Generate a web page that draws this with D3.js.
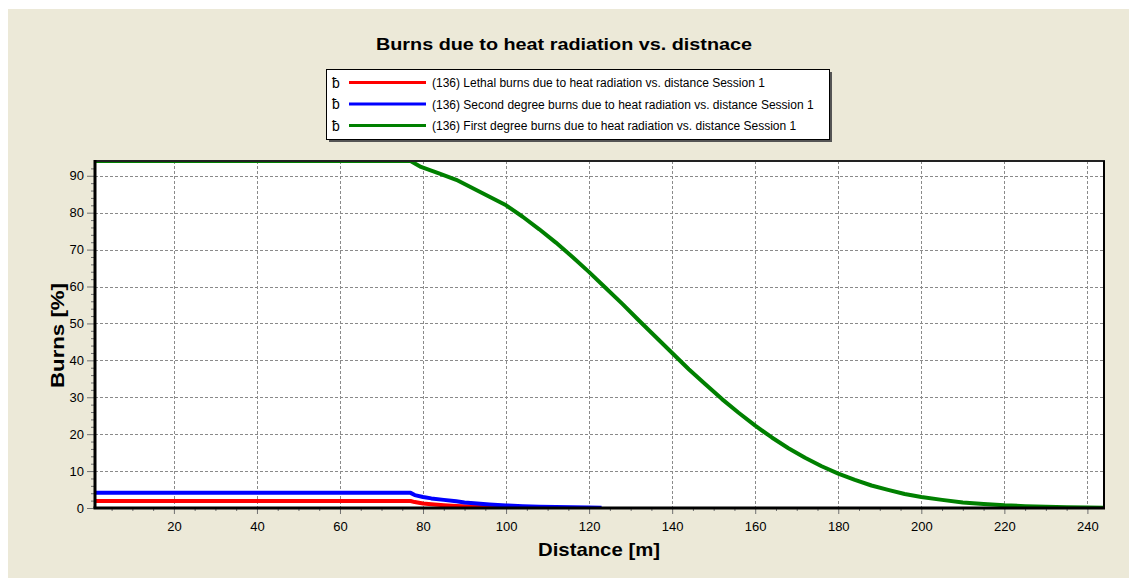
<!DOCTYPE html>
<html><head><meta charset="utf-8">
<script src="https://cdn.jsdelivr.net/npm/d3@7"></script>
<style>
html,body{margin:0;padding:0;background:#fff;}
svg{display:block;}
text{font-family:"Liberation Sans",Arial,sans-serif;}
</style></head>
<body>
<svg id="chart" width="1129" height="578"></svg>
<script>
const title = "Burns due to heat radiation vs. distnace";
const xTitle = "Distance [m]";
const yTitle = "Burns [%]";
const seriesNames = [
  "(136) Lethal burns due to heat radiation vs. distance Session 1",
  "(136) Second degree burns due to heat radiation vs. distance Session 1",
  "(136) First degree burns due to heat radiation vs. distance Session 1"
];
const seriesColors = ["#ff0000", "#0000ff", "#008000"];
const xTicks = [20, 40, 60, 80, 100, 120, 140, 160, 180, 200, 220, 240];
const yTicks = [0, 10, 20, 30, 40, 50, 60, 70, 80, 90];

const lethalX = [1, 77, 78, 80, 82, 85, 88, 91, 94, 97, 100, 104, 107];
const lethalY = [1.9, 1.9, 1.6, 1.2, 1.0, 0.75, 0.55, 0.38, 0.25, 0.16, 0.1, 0.05, 0.02];
const secondX = [1, 77, 78, 80, 82, 85, 88, 90, 93, 96, 100, 104, 108, 112, 116, 120, 123];
const secondY = [4.1, 4.1, 3.5, 3.0, 2.6, 2.2, 1.8, 1.5, 1.2, 0.95, 0.7, 0.5, 0.35, 0.25, 0.18, 0.12, 0.08];
const firstX = [1, 77, 79.5, 80, 84, 88, 92, 96, 100, 104, 108, 112, 116, 120, 124, 128, 132, 136, 140, 144, 148, 152, 156, 160, 164, 168, 172, 176, 180, 184, 188, 192, 196, 200, 205, 210, 215, 220, 225, 230, 235, 240, 244];
const firstY = [94, 94, 92.4, 92.2, 90.6, 88.9, 86.6, 84.3, 82.0, 78.9, 75.5, 71.9, 68.0, 63.9, 59.6, 55.3, 50.8, 46.4, 42.0, 37.6, 33.5, 29.5, 25.8, 22.3, 19.1, 16.2, 13.6, 11.3, 9.3, 7.6, 6.1, 4.9, 3.8, 3.0, 2.2, 1.5, 1.1, 0.73, 0.5, 0.33, 0.21, 0.13, 0.09];

const svg = d3.select("#chart");
const W = 1129, H = 578;
const bg = "#ece9d8";
svg.append("rect").attr("x", 8).attr("y", 9).attr("width", W - 8).attr("height", H - 9).attr("fill", bg);

const L = 95, R = 1104, T = 161, B = 508;
const x = d3.scaleLinear().domain([1, 244]).range([L, R]);
const y = d3.scaleLinear().domain([0, 94]).range([B, T]);

svg.append("rect").attr("x", L).attr("y", T).attr("width", R - L).attr("height", B - T).attr("fill", "#fff");

// grid
const grid = svg.append("g").attr("stroke", "#8a8a8a").attr("stroke-width", 1).attr("stroke-dasharray", "3,2");
xTicks.forEach(t => grid.append("line").attr("x1", Math.round(x(t)) + 0.5).attr("x2", Math.round(x(t)) + 0.5).attr("y1", T).attr("y2", B));
yTicks.filter(t => t > 0).forEach(t => grid.append("line").attr("x1", L).attr("x2", R).attr("y1", Math.round(y(t)) + 0.5).attr("y2", Math.round(y(t)) + 0.5));

// lines
svg.append("clipPath").attr("id", "clip").append("rect").attr("x", L).attr("y", T - 1).attr("width", R - L).attr("height", B - T + 2);
const line = d3.line().x(d => x(d[0])).y(d => y(d[1]));
const sets = [[lethalX, lethalY], [secondX, secondY], [firstX, firstY]];
const lg = svg.append("g").attr("clip-path", "url(#clip)");
sets.forEach((s, i) => {
  const pts = s[0].map((v, j) => [v, s[1][j]]);
  lg.append("path").attr("d", line(pts)).attr("fill", "none").attr("stroke", seriesColors[i]).attr("stroke-width", 4).attr("stroke-linejoin", "round");
});

// axes
const xAxis = d3.axisBottom(x).tickValues(xTicks).tickSize(6).tickPadding(8);
const gx = svg.append("g").attr("transform", `translate(0,${B})`).call(xAxis);
const xMinor = d3.range(5, 245, 5).filter(v => v % 20 !== 0);
const gxm = svg.append("g").attr("transform", `translate(0,${B})`).call(d3.axisBottom(x).tickValues(xMinor).tickSize(3).tickFormat(""));
const yAxis = d3.axisLeft(y).tickValues(yTicks).tickSize(8).tickPadding(3);
const gy = svg.append("g").attr("transform", `translate(${L},0)`).call(yAxis);
const yMinor = d3.range(2, 94, 2).filter(v => v % 10 !== 0);
const gym = svg.append("g").attr("transform", `translate(${L},0)`).call(d3.axisLeft(y).tickValues(yMinor).tickSize(4).tickFormat(""));
[gx, gxm, gy, gym].forEach(g => {
  g.select(".domain").remove();
  g.selectAll(".tick line").attr("stroke", "#707070");
  g.selectAll("text").attr("font-size", 13).attr("fill", "#000").attr("font-family", "Liberation Sans, Arial, sans-serif");
});

// frame
svg.append("line").attr("x1", L).attr("x2", R + 1).attr("y1", T).attr("y2", T).attr("stroke", "#222").attr("stroke-width", 2);
svg.append("line").attr("x1", R).attr("x2", R).attr("y1", T).attr("y2", B).attr("stroke", "#000").attr("stroke-width", 2);
svg.append("line").attr("x1", L - 1.5).attr("x2", R + 1).attr("y1", B).attr("y2", B).attr("stroke", "#000").attr("stroke-width", 3);
svg.append("line").attr("x1", L).attr("x2", L).attr("y1", T - 1).attr("y2", B).attr("stroke", "#000").attr("stroke-width", 3);

// titles
svg.append("text").attr("x", 376).attr("y", 50).attr("font-size", 17).attr("font-weight", "bold")
  .attr("textLength", 376).attr("lengthAdjust", "spacingAndGlyphs").text(title);
svg.append("text").attr("x", 538).attr("y", 556).attr("font-size", 19).attr("font-weight", "bold")
  .attr("textLength", 122).attr("lengthAdjust", "spacingAndGlyphs").text(xTitle);
svg.append("text").attr("transform", "translate(64,388) rotate(-90)").attr("font-size", 19).attr("font-weight", "bold")
  .attr("textLength", 105).attr("lengthAdjust", "spacingAndGlyphs").text(yTitle);

// legend
const lx = 326, ly = 69, lw = 503, lh = 70;
svg.append("rect").attr("x", lx + 3).attr("y", ly + 3).attr("width", lw).attr("height", lh).attr("fill", "#555");
svg.append("rect").attr("x", lx + 0.5).attr("y", ly + 0.5).attr("width", lw).attr("height", lh).attr("fill", "#fff").attr("stroke", "#000").attr("stroke-width", 1);
const rowY = [82.5, 104, 125.5];
seriesNames.forEach((n, i) => {
  svg.append("text").attr("x", 332).attr("y", rowY[i] + 5).attr("font-size", 14).text("ƀ");
  svg.append("line").attr("x1", 349).attr("x2", 426).attr("y1", rowY[i]).attr("y2", rowY[i]).attr("stroke", seriesColors[i]).attr("stroke-width", 3);
  svg.append("text").attr("x", 432).attr("y", rowY[i] + 4.5).attr("font-size", 12).text(n);
});
</script>
</body></html>
